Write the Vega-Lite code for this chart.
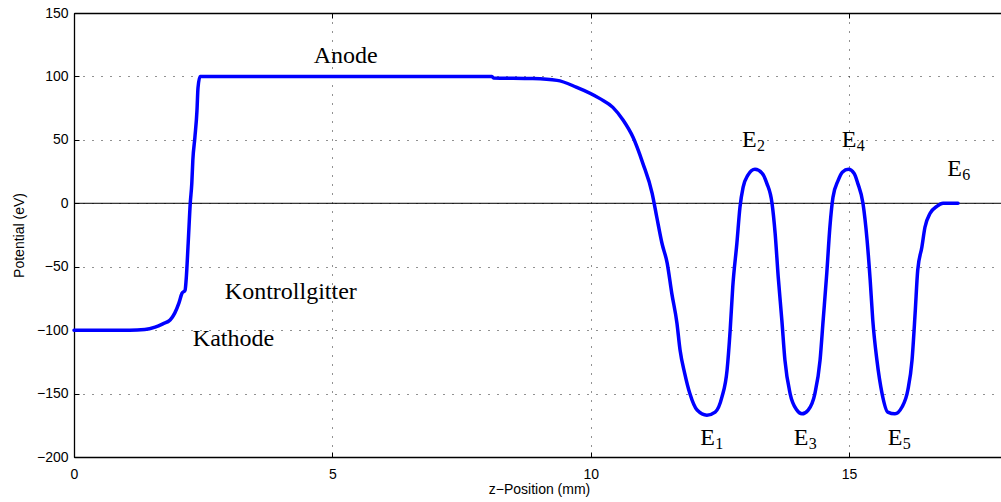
{
  "$schema": "https://vega.github.io/schema/vega-lite/v6.json",
  "width": 930,
  "height": 444,
  "autosize": {"type": "none"},
  "padding": {"left": 74, "top": 13, "right": 0, "bottom": 45},
  "background": "white",
  "config": {
    "view": {"stroke": "black", "strokeWidth": 1},
    "axis": {
      "labelFont": "Liberation Sans",
      "titleFont": "Liberation Sans",
      "labelFontSize": 14,
      "titleFontSize": 14,
      "titleFontWeight": "normal",
      "labelColor": "black",
      "titleColor": "black",
      "domainColor": "black",
      "tickColor": "black",
      "gridColor": "#222222",
      "gridDash": [1, 8],
      "gridWidth": 1,
      "labelFlush": false
    }
  },
  "datasets": {
    "potential": [
      {"z": 0, "v": -100}, {"z": 1.08, "v": -100}, {"z": 1.37, "v": -99.5},
      {"z": 1.57, "v": -97.6}, {"z": 1.72, "v": -95}, {"z": 1.86, "v": -92},
      {"z": 1.95, "v": -86.6}, {"z": 2.03, "v": -78.7}, {"z": 2.09, "v": -71},
      {"z": 2.15, "v": -68.5}, {"z": 2.17, "v": -60.6}, {"z": 2.21, "v": -31.5},
      {"z": 2.25, "v": 0}, {"z": 2.28, "v": 15.7}, {"z": 2.3, "v": 33.9},
      {"z": 2.34, "v": 52}, {"z": 2.38, "v": 73}, {"z": 2.4, "v": 91},
      {"z": 2.44, "v": 100}, {"z": 8.09, "v": 100}, {"z": 8.12, "v": 98.8},
      {"z": 8.88, "v": 98.3}, {"z": 9.35, "v": 96.9}, {"z": 9.72, "v": 91.6},
      {"z": 10.18, "v": 82.5}, {"z": 10.43, "v": 75.6}, {"z": 10.63, "v": 65.4},
      {"z": 10.82, "v": 52}, {"z": 11.01, "v": 31.5}, {"z": 11.19, "v": 7.9},
      {"z": 11.28, "v": -11}, {"z": 11.38, "v": -31.5}, {"z": 11.48, "v": -47},
      {"z": 11.57, "v": -71}, {"z": 11.67, "v": -94.5}, {"z": 11.73, "v": -115.7},
      {"z": 11.82, "v": -134}, {"z": 11.92, "v": -150}, {"z": 12.06, "v": -163},
      {"z": 12.25, "v": -167}, {"z": 12.41, "v": -164.6}, {"z": 12.54, "v": -152.8},
      {"z": 12.64, "v": -131.5}, {"z": 12.7, "v": -100}, {"z": 12.75, "v": -66},
      {"z": 12.83, "v": -31.5}, {"z": 12.89, "v": -3}, {"z": 12.95, "v": 12.6},
      {"z": 13.04, "v": 22}, {"z": 13.18, "v": 26.8}, {"z": 13.32, "v": 23.6},
      {"z": 13.41, "v": 15.7}, {"z": 13.51, "v": 0}, {"z": 13.57, "v": -23.6},
      {"z": 13.63, "v": -58}, {"z": 13.7, "v": -92}, {"z": 13.76, "v": -123.6},
      {"z": 13.86, "v": -150}, {"z": 13.99, "v": -163}, {"z": 14.09, "v": -166},
      {"z": 14.21, "v": -163}, {"z": 14.34, "v": -150}, {"z": 14.44, "v": -123.6},
      {"z": 14.5, "v": -92}, {"z": 14.57, "v": -55}, {"z": 14.63, "v": -18.9},
      {"z": 14.69, "v": 4.7}, {"z": 14.79, "v": 18}, {"z": 14.87, "v": 24.5},
      {"z": 14.99, "v": 26.8}, {"z": 15.1, "v": 23.5}, {"z": 15.17, "v": 15.7},
      {"z": 15.27, "v": 0},
      {"z": 15.35, "v": -29}, {"z": 15.41, "v": -60.6}, {"z": 15.46, "v": -92},
      {"z": 15.54, "v": -123.6}, {"z": 15.64, "v": -150}, {"z": 15.75, "v": -164.6},
      {"z": 15.89, "v": -166}, {"z": 16.02, "v": -161}, {"z": 16.14, "v": -147},
      {"z": 16.22, "v": -123.6}, {"z": 16.28, "v": -86.6}, {"z": 16.33, "v": -52.8},
      {"z": 16.41, "v": -34.6}, {"z": 16.47, "v": -18.9}, {"z": 16.57, "v": -7.9},
      {"z": 16.7, "v": -2.4}, {"z": 16.82, "v": 0}, {"z": 17.11, "v": 0}
    ],
    "labels": [
      {"text": "Anode", "sub": "", "z": 4.64, "v": 110.2},
      {"text": "Kontrollgitter", "sub": "", "z": 2.92, "v": -75.6},
      {"text": "Kathode", "sub": "", "z": 2.3, "v": -112.6},
      {"text": "E", "sub": "1", "z": 12.12, "v": -190.5},
      {"text": "E", "sub": "2", "z": 12.93, "v": 44.1},
      {"text": "E", "sub": "3", "z": 13.93, "v": -190.5},
      {"text": "E", "sub": "4", "z": 14.86, "v": 44.1},
      {"text": "E", "sub": "5", "z": 15.75, "v": -190.5},
      {"text": "E", "sub": "6", "z": 16.9, "v": 21.3}
    ],
    "zero": [{"v": 0}]
  },
  "resolve": {"axis": {"x": "independent"}},
  "layer": [
    {
      "data": {"name": "zero"},
      "mark": {"type": "rule", "color": "black", "strokeWidth": 1},
      "encoding": {
        "y": {"field": "v", "type": "quantitative", "scale": {"domain": [-200, 150]}}
      }
    },
    {
      "data": {"name": "potential"},
      "mark": {"type": "line", "color": "#0000ff", "strokeWidth": 3.5, "strokeJoin": "round", "strokeCap": "round", "interpolate": "monotone"},
      "encoding": {
        "x": {
          "field": "z", "type": "quantitative",
          "scale": {"domain": [0, 18], "nice": false, "zero": false},
          "axis": {
            "title": "z−Position (mm)",
            "values": [0, 5, 10, 15],
            "grid": true,
            "tickSize": -5,
            "labelPadding": 15,
            "titlePadding": 1,
            "domainWidth": 1.3
          }
        },
        "y": {
          "field": "v", "type": "quantitative",
          "scale": {"domain": [-200, 150], "nice": false, "zero": false},
          "axis": {
            "title": "Potential (eV)",
            "values": [-200, -150, -100, -50, 0, 50, 100, 150],
            "grid": true,
            "tickSize": -5,
            "labelPadding": 11,
            "titlePadding": 10,
            "domainWidth": 1.3
          }
        }
      }
    },
    {
      "data": {"name": "labels"},
      "mark": {"type": "text", "font": "Liberation Serif", "fontSize": 24, "align": "left", "baseline": "alphabetic", "color": "black"},
      "encoding": {
        "x": {
          "field": "z", "type": "quantitative",
          "scale": {"domain": [0, 18], "nice": false, "zero": false},
          "axis": {
            "orient": "top",
            "title": null,
            "labels": false,
            "grid": false,
            "values": [0, 5, 10, 15],
            "tickSize": -5,
            "domainWidth": 1.3
          }
        },
        "y": {"field": "v", "type": "quantitative"},
        "text": {"field": "text"}
      }
    },
    {
      "data": {"name": "labels"},
      "mark": {"type": "text", "font": "Liberation Serif", "fontSize": 16, "align": "left", "baseline": "alphabetic", "dx": 15, "dy": 4, "color": "black"},
      "encoding": {
        "x": {"field": "z", "type": "quantitative", "axis": null},
        "y": {"field": "v", "type": "quantitative"},
        "text": {"field": "sub"}
      }
    }
  ]
}
